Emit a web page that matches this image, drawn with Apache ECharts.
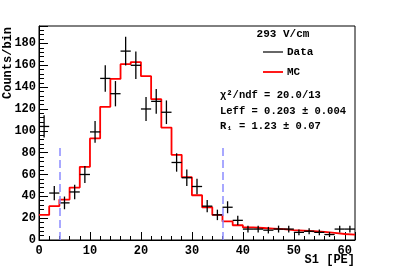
<!DOCTYPE html>
<html>
<head>
<meta charset="utf-8">
<script src="https://cdn.jsdelivr.net/npm/echarts@6/dist/echarts.min.js"></script>
<style>
html,body{margin:0;padding:0;background:#fff;}
#c{width:395px;height:267px;}
</style>
</head>
<body>
<div id="c"></div>
<script>
// ---- data ----
const binCenters = [1,3,5,7,9,11,13,15,17,19,21,23,25,27,29,31,33,35,37,39,41,43,45,47,49,51,53,55,57,59,61];
const dataCounts = [104,43,34,44,60,99,148,134,173,160,120,127,117,71,57,49,31,23,30,18,10,10,9,10,10,7,8,7,5,10,10];
const mcCounts = [23,31,37,48,67,93,122,147.5,161,163,150,129,103,78,57.5,41,30,23,17,13.5,11.5,11,10.5,10,9,8.5,8,7.5,6.5,5.5,5];
const binHalfWidth = 1;
const cutLines = [4, 36];
const cutTop = 87;
const xTicks = [0,10,20,30,40,50,60];
const yTicks = [0,20,40,60,80,100,120,140,160,180];
const legendTitle = '293 V/cm';
const legendNames = ['Data', 'MC'];
const statLines = ['\u03c7\u00b2/ndf = 20.0/13', 'Leff = 0.203 \u00b1 0.004', 'R\u2081 = 1.23 \u00b1 0.07'];
const xTitle = 'S1 [PE]';
const yTitle = 'Counts/bin';

const FONT = '"Liberation Mono","DejaVu Sans Mono",monospace';

// MC histogram as steps from bin edges
const mcStep = binCenters.map((c, i) => [c - binHalfWidth, mcCounts[i]]);
mcStep.push([binCenters[binCenters.length - 1] + binHalfWidth, mcCounts[mcCounts.length - 1]]);

const dataPts = binCenters.map((c, i) => [c, dataCounts[i]]);

const chart = echarts.init(document.getElementById('c'), null, {renderer: 'canvas'});

const option = {
  animation: false,
  backgroundColor: '#fff',
  grid: {left: 39, right: 40, top: 26, bottom: 27, show: true, borderColor: '#000', borderWidth: 1, backgroundColor: 'transparent'},
  xAxis: {
    type: 'value', min: 0, max: 62, interval: 10,
    axisLine: {show: true, lineStyle: {color: '#000', width: 1}},
    axisTick: {show: true, inside: true, length: 8, lineStyle: {color: '#000'}},
    minorTick: {show: true, splitNumber: 5, length: 4, lineStyle: {color: '#000'}},
    splitLine: {show: false},
    axisLabel: {show: true, showMaxLabel: false, color: '#000', fontFamily: FONT, fontWeight: 'bold', fontSize: 12, margin: 5,
      formatter: v => xTicks.indexOf(v) >= 0 ? String(v) : ''}
  },
  yAxis: {
    type: 'value', min: 0, max: 196, interval: 20,
    axisLine: {show: true, lineStyle: {color: '#000', width: 1}},
    axisTick: {show: true, inside: true, length: 9, lineStyle: {color: '#000'}},
    minorTick: {show: true, splitNumber: 5, length: 5, lineStyle: {color: '#000'}},
    splitLine: {show: false},
    axisLabel: {show: true, showMaxLabel: false, color: '#000', fontFamily: FONT, fontWeight: 'bold', fontSize: 12, margin: 3,
      formatter: v => yTicks.indexOf(v) >= 0 ? String(v) : ''}
  },
  series: [
    {
      type: 'line', name: 'MC', data: mcStep, step: 'end', symbol: 'none',
      lineStyle: {color: '#ff0000', width: 1.8}, z: 3,
      markLine: {
        silent: true, symbol: 'none', label: {show: false},
        lineStyle: {color: '#8c8cff', type: [8, 4], width: 1.5},
        data: cutLines.map(x => [{coord: [x, 0]}, {coord: [x, cutTop]}])
      }
    },
    {
      type: 'custom', name: 'Data', data: dataPts, z: 4,
      renderItem: function (params, api) {
        const x = api.value(0), y = api.value(1);
        const e = Math.sqrt(y);
        const c = api.coord([x, y]);
        const l = api.coord([x - binHalfWidth, y]);
        const r = api.coord([x + binHalfWidth, y]);
        const t = api.coord([x, y + e]);
        const b = api.coord([x, y - e]);
        const st = {stroke: '#000', lineWidth: 1.3};
        return {type: 'group', children: [
          {type: 'line', shape: {x1: l[0], y1: c[1], x2: r[0], y2: c[1]}, style: st},
          {type: 'line', shape: {x1: c[0], y1: t[1], x2: c[0], y2: b[1]}, style: st}
        ]};
      }
    }
  ],
  graphic: [
    {type: 'text', x: 8, y: 27, rotation: Math.PI / 2,
      style: {text: yTitle, font: 'bold 12px ' + FONT, fill: '#000', align: 'right', verticalAlign: 'middle'}},
    {type: 'text', x: 355, y: 260,
      style: {text: xTitle, font: 'bold 12px ' + FONT, fill: '#000', align: 'right', verticalAlign: 'middle'}},
    {type: 'text', x: 283, y: 34,
      style: {text: legendTitle, font: 'bold 11px ' + FONT, fill: '#000', align: 'center', verticalAlign: 'middle'}},
    {type: 'line', shape: {x1: 263, y1: 52, x2: 283, y2: 52}, style: {stroke: '#000', lineWidth: 1.2}},
    {type: 'text', x: 287, y: 52,
      style: {text: legendNames[0], font: 'bold 11px ' + FONT, fill: '#000', align: 'left', verticalAlign: 'middle'}},
    {type: 'line', shape: {x1: 263, y1: 72, x2: 283, y2: 72}, style: {stroke: '#ff0000', lineWidth: 1.8}},
    {type: 'text', x: 287, y: 72,
      style: {text: legendNames[1], font: 'bold 11px ' + FONT, fill: '#000', align: 'left', verticalAlign: 'middle'}},
    {type: 'text', x: 220, y: 95,
      style: {text: statLines[0], font: 'bold 10.5px ' + FONT, fill: '#000', align: 'left', verticalAlign: 'middle'}},
    {type: 'text', x: 220, y: 111,
      style: {text: statLines[1], font: 'bold 10.5px ' + FONT, fill: '#000', align: 'left', verticalAlign: 'middle'}},
    {type: 'text', x: 220, y: 126,
      style: {text: statLines[2], font: 'bold 10.5px ' + FONT, fill: '#000', align: 'left', verticalAlign: 'middle'}}
  ]
};
chart.setOption(option);
</script>
</body>
</html>
